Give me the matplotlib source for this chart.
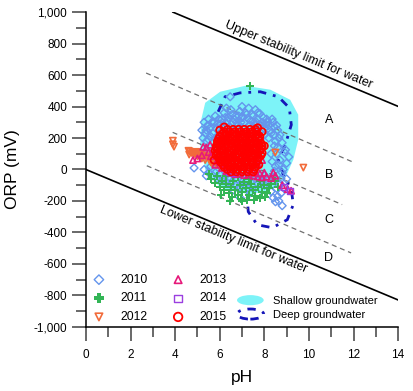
import numpy as np
import matplotlib
matplotlib.use("Agg")
import matplotlib.pyplot as plt
from matplotlib.patches import Polygon, Ellipse
from matplotlib.legend_handler import HandlerPatch
from matplotlib.ticker import MultipleLocator, FuncFormatter

plt.rcParams['font.family'] = ['Liberation Sans', 'DejaVu Sans']

# ---- data ----
# stability limits of water
upper_ph = [3.9, 14.0]
upper_orp = [1000, 401]
lower_ph = [0.0, 14.0]
lower_orp = [0, -829]

# dashed zone boundaries (A/B/C/D)
div_ph = [[2.70, 12.01], [3.89, 11.49], [2.73, 11.89]]
div_orp = [[613, 45], [236, -223], [24, -530]]

zone_labels = ['A', 'B', 'C', 'D']
zone_ph = [10.9, 10.9, 10.9, 10.9]
zone_orp = [316, -35, -320, -562]

# shallow groundwater envelope
shallow_ph = [5.35, 6.02, 7.14, 8.27, 9.16, 9.52, 9.52, 9.30, 8.94, 8.27, 7.37,
              6.02, 5.35, 5.12, 5.17]
shallow_orp = [424, 494, 532, 507, 443, 348, 189, 62, -52, -128, -160,
               -115, 0, 157, 316]

# deep groundwater envelope
deep_ph = [5.93, 6.24, 6.92, 7.82, 8.63, 9.12, 9.21, 8.94, 8.63, 8.85, 9.21,
           9.30, 9.03, 8.36, 7.68, 7.28, 7.23, 7.46]
deep_orp = [367, 462, 487, 494, 462, 392, 284, 157, 62, -33, -128,
            -223, -319, -370, -351, -268, -179, -116]

ph_2010 = [5.3, 5.4, 5.5, 5.6, 5.7, 5.8, 5.9, 6.0, 6.1, 6.2, 6.3, 6.4, 6.5, 6.6,
           6.7, 6.8, 6.9, 7.0, 7.1, 7.2, 7.3, 7.4, 7.5, 7.6, 7.7, 7.8, 7.9, 8.0,
           8.1, 8.2, 8.4, 8.6, 8.7, 5.25, 5.5, 5.8, 8.0, 8.3, 6.47, 7.7, 7.05,
           8.5, 8.6, 8.9, 8.95, 8.3, 8.7, 8.5, 8.8, 8.4, 8.7, 8.9, 8.6, 8.5,
           8.75, 8.3, 8.0, 9.0, 9.1,
           4.85, 5.3, 5.5, 5.7, 5.9, 6.1, 6.3, 6.5, 6.7, 6.9, 7.1, 7.3, 7.5,
           7.7, 7.9, 6.92, 7.37, 6.0, 5.6, 6.4, 6.8, 7.2, 7.6, 8.0,
           5.45, 5.75, 6.05, 6.35, 6.65, 6.95, 7.25, 7.55, 7.85, 8.15, 8.45,
           5.35, 5.55, 5.65, 5.85, 5.95, 6.15, 6.25, 6.45, 6.55, 6.75, 6.85,
           7.15, 7.35, 7.45, 7.65, 7.75, 7.95, 8.05, 8.25, 8.35, 8.55, 8.65,
           8.8, 5.2, 5.4, 5.6, 8.2, 8.45, 6.3, 7.0, 7.6,
           8.45, 8.55, 8.65, 8.45, 8.75, 8.55, 8.65, 8.8, 8.4, 8.85, 9.0, 8.35,
           5.4, 5.8, 6.2, 7.0, 7.8, 8.2, 6.6, 7.7]
orp_2010 = [300, 250, 320, 270, 230, 340, 290, 250, 320, 360, 290, 330, 380, 300,
            340, 280, 370, 330, 300, 350, 390, 310, 340, 280, 320, 355, 300, 260,
            320, 280, 300, 250, 220, 200, 190, 200, 220, 230, 462, 360, 335,
            180, 140, 110, 125, 100, 60, 20, -20, -50, -90, -120, -170, -205,
            -150, -140, -100, 40, 80,
            10, 0, -20, -40, -60, -70, -80, -90, -100, -110, -100, -120, -110,
            -90, -80, -180, -148, -30, 20, -50, -60, -70, -60, -40,
            280, 300, 290, 310, 320, 300, 325, 300, 280, 300, 270,
            230, 260, 300, 260, 320, 280, 330, 270, 350, 300, 340,
            360, 280, 350, 300, 270, 330, 290, 250, 320, 280, 200,
            170, 250, 180, 210, 200, 220, 390, 400, 380,
            150, 100, 30, -10, -60, -120, -200, -230, -180, 0, -60, 50,
            -40, -20, -50, -60, -60, -60, -130, -150]

ph_2011 = [7.37, 5.6, 5.8, 5.9, 6.0, 6.1, 6.2, 6.3, 6.4, 6.5, 6.56, 6.6, 6.7,
           6.8, 6.9, 7.0, 7.1, 7.23, 7.2, 7.3, 7.4, 7.5, 7.6, 7.7, 7.8, 7.9,
           8.0, 8.1, 8.2, 8.3, 6.3, 6.8, 7.3, 7.8, 5.5, 7.0, 8.5, 8.6, 5.0,
           6.05, 6.45, 6.95, 7.55, 8.05]
orp_2011 = [532, -60, -85, -40, -110, -70, -130, -90, -150, -110, -173, -70,
            -130, -160, -100, -140, -80, -192, -120, -160, -90, -130, -170,
            -110, -180, -140, -100, -150, -120, -90, -40, -50, -60, -70, -30,
            -200, -70, -110, 90, -165, -200, -185, -195, -175]

ph_2012 = [3.9, 3.9, 3.95, 4.6, 4.63, 8.49, 9.75,
           4.65, 4.8, 4.9, 5.0, 5.1, 5.2, 5.3, 5.4, 5.5, 5.6, 5.7, 5.8, 5.9,
           6.0, 6.1, 6.2, 5.35, 5.6, 5.85, 6.1, 5.0, 5.2,
           4.75, 4.95, 5.15, 5.25, 5.45, 5.55, 5.75, 5.95, 6.15, 5.05, 4.85,
           5.65, 6.05]
orp_2012 = [183, 160, 145, 119, 95, 108, 12,
            115, 110, 100, 105, 95, 85, 90, 75, 80, 65, 70, 55, 45,
            60, 35, 50, 60, 45, 30, 20, 85, 70,
            105, 112, 100, 78, 85, 55, 60, 25, 40, 92, 98, 40, 45]

ph_2013 = [5.4, 5.5, 5.7, 5.6, 5.9, 5.8, 6.1, 6.0, 6.3, 6.5, 6.7, 6.9, 7.1,
           7.3, 7.5, 7.7, 7.9, 8.1, 8.3, 8.5, 6.2, 6.4, 6.6, 6.8, 7.0, 7.2,
           7.4, 7.6, 7.8, 8.0, 5.2, 5.0, 4.8, 8.8, 9.05, 9.2, 7.7, 7.9, 5.26,
           5.57, 8.4]
orp_2013 = [140, 110, 130, 85, 60, 30, 10, 70, -10, -20, -30, -25, -35,
            -30, -40, -45, -50, -45, -55, -40, 40, 20, 0, -5, -10, -10,
            -15, -20, -25, -20, 90, 70, 60, -100, -125, -135, 35, 60, 144,
            157, -20]

ph_2014 = [6.4, 6.6, 9.15, 8.9]
orp_2014 = [-15, -20, -135, -110]

ph_2015 = [6.35, 6.6, 6.85, 7.1, 7.35, 7.6,
           6.2, 6.45, 6.7, 6.95, 7.2, 7.45, 7.65,
           6.1, 6.3, 6.55, 6.75, 7.0, 7.2, 7.45, 7.7,
           6.0, 6.2, 6.45, 6.65, 6.9, 7.1, 7.35, 7.6, 7.8,
           5.95, 6.2, 6.4, 6.6, 6.85, 7.05, 7.3, 7.5, 7.75,
           5.9, 6.05, 6.3, 6.5, 6.7, 6.95, 7.15, 7.4, 7.6, 7.8,
           5.9, 6.1, 6.3, 6.55, 6.75, 7.0, 7.2, 7.4, 7.65, 7.85,
           5.85, 6.0, 6.2, 6.4, 6.6, 6.8, 7.05, 7.25, 7.5, 7.75, 7.9,
           5.85, 6.05, 6.25, 6.5, 6.7, 6.9, 7.15, 7.35, 7.6, 7.85,
           5.8, 6.0, 6.2, 6.45, 6.65, 6.9, 7.1, 7.35, 7.55, 7.8,
           5.9, 6.1, 6.35, 6.55, 6.8, 7.0, 7.25, 7.45, 7.7, 7.9,
           5.85, 6.05, 6.25, 6.45, 6.7, 6.9, 7.15, 7.4, 7.6, 7.85,
           5.95, 6.2, 6.4, 6.6, 6.85, 7.05, 7.3, 7.5, 7.75,
           6.0, 6.1, 6.3, 6.55, 6.75, 6.95, 7.2, 7.45, 7.7,
           6.05, 6.25, 6.5, 6.7, 6.95, 7.15, 7.4, 7.65,
           6.15, 6.35, 6.55, 6.8, 7.0, 7.25, 7.5, 7.75,
           6.2, 6.45, 6.65, 6.9, 7.1, 7.35, 7.6,
           6.35, 6.6, 6.8, 7.05, 7.3, 7.55,
           6.5, 6.75, 7.0, 7.25, 7.5,
           5.75, 6.0, 7.9, 8.0, 6.2, 7.7]
orp_2015 = [255, 255, 255, 255, 255, 255,
            240, 240, 240, 240, 240, 240, 240,
            225, 225, 225, 225, 225, 225, 225, 225,
            210, 210, 210, 210, 210, 210, 210, 210, 210,
            195, 195, 195, 195, 195, 195, 195, 195, 195,
            180, 180, 180, 180, 180, 180, 180, 180, 180, 180,
            165, 165, 165, 165, 165, 165, 165, 165, 165, 165,
            150, 150, 150, 150, 150, 150, 150, 150, 150, 150, 150,
            135, 135, 135, 135, 135, 135, 135, 135, 135, 135,
            120, 120, 120, 120, 120, 120, 120, 120, 120, 120,
            105, 105, 105, 105, 105, 105, 105, 105, 105, 105,
            90, 90, 90, 90, 90, 90, 90, 90, 90, 90,
            75, 75, 75, 75, 75, 75, 75, 75, 75,
            60, 60, 60, 60, 60, 60, 60, 60, 60,
            45, 45, 45, 45, 45, 45, 45, 45,
            30, 30, 30, 30, 30, 30, 30, 30,
            15, 15, 15, 15, 15, 15, 15,
            0, 0, 0, 0, 0, 0,
            -15, -15, -15, -15, -15,
            60, 250, 240, 150, 270, 265]

c2010 = '#6495ED'
c2011 = '#33B556'
c2012 = '#F26B3A'
c2013 = '#E6197A'
c2014 = '#9B3FE0'
c2015 = '#FF0000'
c_shallow = '#7DF3F8'
c_deep = '#1515B8'

fig = plt.figure(figsize=(4.13, 3.91), dpi=100)
ax = fig.add_axes([0.208, 0.164, 0.756, 0.805])

ax.add_patch(Polygon(np.column_stack([shallow_ph, shallow_orp]), closed=True,
                     facecolor=c_shallow, edgecolor='none', zorder=1))
ax.add_patch(Polygon(np.column_stack([deep_ph, deep_orp]), closed=False,
                     facecolor='none', edgecolor=c_deep, lw=2, ls=(0, (3, 2.5, 1, 2.5)),
                     zorder=2))

ax.plot(upper_ph, upper_orp, color='black', lw=1.2, zorder=3)
ax.plot(lower_ph, lower_orp, color='black', lw=1.2, zorder=3)
for xs, ys in zip(div_ph, div_orp):
    ax.plot(xs, ys, color='#707070', lw=0.9, ls=(0, (4, 3)), zorder=3)

ms = 20
ax.scatter(ph_2010, orp_2010, s=16, marker='D', facecolor='none', edgecolor=c2010,
           lw=1.0, zorder=4, label='2010')
ax.scatter(ph_2011, orp_2011, s=30, marker='P', color=c2011, lw=0, zorder=4,
           label='2011')
ax.scatter(ph_2012, orp_2012, s=ms, marker='v', facecolor='none', edgecolor=c2012,
           lw=1.2, zorder=4, label='2012')
ax.scatter(ph_2013, orp_2013, s=ms, marker='^', facecolor='none', edgecolor=c2013,
           lw=1.2, zorder=4, label='2013')
ax.scatter(ph_2014, orp_2014, s=ms, marker='s', facecolor='none', edgecolor=c2014,
           lw=1.0, zorder=4, label='2014')
ax.scatter(ph_2015, orp_2015, s=26, marker='o', facecolor='none', edgecolor=c2015,
           lw=1.3, zorder=5, label='2015')

ax.text(9.52, 729, 'Upper stability limit for water', rotation=-22.6,
        ha='center', va='center', fontsize=9, rotation_mode='anchor')
ax.text(6.6, -446, 'Lower stability limit for water', rotation=-22.4,
        ha='center', va='center', fontsize=9, rotation_mode='anchor')
for lab, x, y in zip(zone_labels, zone_ph, zone_orp):
    ax.text(x, y, lab, ha='center', va='center', fontsize=9)

ax.set_xlim(0, 14)
ax.set_ylim(-1000, 1000)
ax.xaxis.set_major_locator(MultipleLocator(2))
ax.xaxis.set_minor_locator(MultipleLocator(1))
ax.yaxis.set_major_locator(MultipleLocator(200))
ax.yaxis.set_minor_locator(MultipleLocator(100))
ax.yaxis.set_major_formatter(FuncFormatter(lambda v, p: f"{int(round(v)):,}"))
ax.tick_params(which='major', direction='out', length=10, width=1.1, labelsize=8.5,
               color='#404040')
ax.tick_params(which='minor', direction='out', length=7, width=1.1, color='#404040')
ax.tick_params(axis='x', pad=6)
for s in ['top', 'right']:
    ax.spines[s].set_visible(False)
for s in ['left', 'bottom']:
    ax.spines[s].set_linewidth(1.1)

ax.set_xlabel('pH', fontsize=12.5)
ax.set_ylabel('ORP (mV)', fontsize=12.5)
ax.xaxis.set_label_coords(0.5, -0.138)
ax.yaxis.set_label_coords(-0.21, 0.5)

leg1 = ax.legend(loc='lower left', bbox_to_anchor=(0.003, 0.012), ncol=2,
                 frameon=False, fontsize=8.7, borderaxespad=0, borderpad=0,
                 handletextpad=0.8, columnspacing=1.5, labelspacing=0.55,
                 scatterpoints=1, markerscale=1.2)
ax.add_artist(leg1)


def make_ellipse(legend, orig_handle, xdescent, ydescent, width, height, fontsize):
    return Ellipse((width / 2 - xdescent, height / 2 - ydescent), width, height * 1.3)


h_shallow = Ellipse((0, 0), 1, 1, facecolor=c_shallow, edgecolor='none')
h_deep = Ellipse((0, 0), 1, 1, facecolor='none', edgecolor=c_deep, lw=2,
                 ls=(0, (3, 2.5, 1, 2.5)))
ax.legend([h_shallow, h_deep], ['Shallow groundwater', 'Deep groundwater'],
          loc='lower left', bbox_to_anchor=(0.484, 0.022), frameon=False,
          fontsize=8, borderaxespad=0, borderpad=0, handlelength=2.4,
          handletextpad=0.8, labelspacing=0.35,
          handler_map={Ellipse: HandlerPatch(patch_func=make_ellipse)})

fig.savefig('out.png', dpi=100)
